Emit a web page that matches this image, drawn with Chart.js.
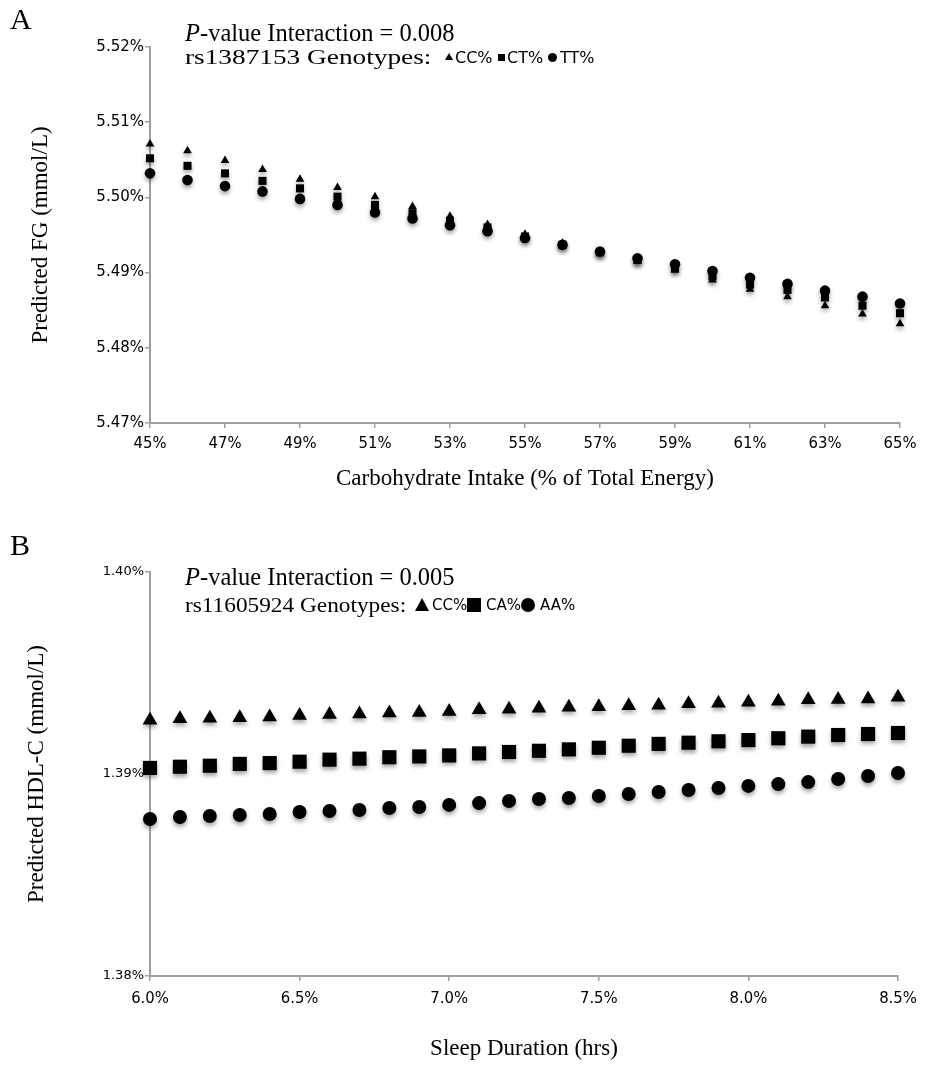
<!DOCTYPE html>
<html>
<head>
<meta charset="utf-8">
<script src="https://cdn.jsdelivr.net/npm/chart.js@4.4.0/dist/chart.umd.min.js"></script>
<style>
body { margin: 0; background: #fff; }
#wrap { position: relative; width: 927px; height: 1072px; overflow: hidden; }
canvas { position: absolute; left: 0; }
.t { position: absolute; font-family: "Liberation Serif", serif; color: #000; white-space: nowrap; line-height: 1; transform-origin: left center; }
.s { position: absolute; font-family: "DejaVu Sans", sans-serif; color: #000; white-space: nowrap; line-height: 1; }
.tri { position: absolute; width: 0; height: 0; border-style: solid; border-color: transparent transparent #000 transparent; }
.sq { position: absolute; background: #000; }
.dot { position: absolute; background: #000; border-radius: 50%; }
</style>
</head>
<body>
<div id="wrap">
  <canvas id="chartA" width="927" height="495" style="top:0"></canvas>
  <canvas id="chartB" width="927" height="577" style="top:495px"></canvas>

  <div class="t" style="left:10px;top:4px;font-size:30px">A</div>
  <div class="t" style="left:185px;top:21px;font-size:24.5px"><i>P</i>-value Interaction = 0.008</div>
  <div class="t" style="left:185px;top:47px;font-size:21px;transform:scaleX(1.3)">rs1387153 Genotypes:</div>
  <div class="tri" style="left:445px;top:53px;border-width:0 4px 7px 4px"></div>
  <div class="s" style="left:455px;top:50px;font-size:16px">CC%</div>
  <div class="sq" style="left:498px;top:54px;width:7px;height:7px"></div>
  <div class="s" style="left:507px;top:50px;font-size:16px">CT%</div>
  <div class="dot" style="left:548px;top:53px;width:9px;height:9px"></div>
  <div class="s" style="left:560px;top:50px;font-size:16px">TT%</div>

  <div class="t" style="left:10px;top:530px;font-size:30px">B</div>
  <div class="t" style="left:185px;top:565px;font-size:24.5px"><i>P</i>-value Interaction = 0.005</div>
  <div class="t" style="left:185px;top:595px;font-size:20px;transform:scaleX(1.165)">rs11605924 Genotypes:</div>
  <div class="tri" style="left:415px;top:598px;border-width:0 7.5px 13px 7.5px"></div>
  <div class="s" style="left:432px;top:598px;font-size:15px">CC%</div>
  <div class="sq" style="left:467px;top:598px;width:14px;height:14px"></div>
  <div class="s" style="left:486px;top:598px;font-size:15px">CA%</div>
  <div class="dot" style="left:521px;top:598px;width:14px;height:14px"></div>
  <div class="s" style="left:540px;top:598px;font-size:15px">AA%</div>
</div>

<script>
// panel A: fasting glucose by carbohydrate intake
var carbIntake = [45, 46, 47, 48, 49, 50, 51, 52, 53, 54, 55, 56, 57, 58, 59, 60, 61, 62, 63, 64, 65];
var fgCC = [5.5071, 5.5062, 5.5049, 5.5037, 5.5024, 5.5013, 5.5001, 5.4988, 5.4975, 5.4964, 5.4951,
            5.4939, 5.4927, 5.4915, 5.4903, 5.4890, 5.4878, 5.4868, 5.4856, 5.4845, 5.4832];
var fgCT = [5.5052, 5.5042, 5.5032, 5.5022, 5.5012, 5.5001, 5.4990, 5.4979, 5.4969, 5.4960, 5.4948,
            5.4937, 5.4927, 5.4917, 5.4906, 5.4895, 5.4884, 5.4877, 5.4867, 5.4856, 5.4846];
var fgTT = [5.5032, 5.5023, 5.5015, 5.5008, 5.4998, 5.4990, 5.4980, 5.4972, 5.4963, 5.4955, 5.4946,
            5.4937, 5.4928, 5.4919, 5.4911, 5.4902, 5.4893, 5.4885, 5.4876, 5.4868, 5.4859];
var carbTicks = [45, 47, 49, 51, 53, 55, 57, 59, 61, 63, 65];
var fgTicks = [5.47, 5.48, 5.49, 5.50, 5.51, 5.52];

// panel B: HDL-C by sleep duration
var sleepHours = [6.0, 6.1, 6.2, 6.3, 6.4, 6.5, 6.6, 6.7, 6.8, 6.9, 7.0, 7.1, 7.2,
                  7.3, 7.4, 7.5, 7.6, 7.7, 7.8, 7.9, 8.0, 8.1, 8.2, 8.3, 8.4, 8.5];
var hdlCC = [1.39266, 1.39274, 1.39276, 1.39279, 1.39282, 1.39289, 1.39294, 1.39297, 1.39302, 1.39305, 1.39310, 1.39318, 1.39320,
             1.39325, 1.39330, 1.39333, 1.39338, 1.39340, 1.39348, 1.39350, 1.39355, 1.39360, 1.39368, 1.39369, 1.39371, 1.39380];
var hdlCA = [1.39030, 1.39036, 1.39041, 1.39050, 1.39054, 1.39061, 1.39071, 1.39076, 1.39083, 1.39087, 1.39092, 1.39102, 1.39109,
             1.39115, 1.39122, 1.39130, 1.39140, 1.39149, 1.39155, 1.39162, 1.39168, 1.39177, 1.39185, 1.39193, 1.39198, 1.39203];
var hdlAA = [1.38777, 1.38787, 1.38792, 1.38797, 1.38802, 1.38812, 1.38817, 1.38822, 1.38832, 1.38837, 1.38847, 1.38856, 1.38866,
             1.38876, 1.38881, 1.38891, 1.38901, 1.38911, 1.38921, 1.38931, 1.38941, 1.38950, 1.38960, 1.38975, 1.38990, 1.39005];
var sleepTicks = [6.0, 6.5, 7.0, 7.5, 8.0, 8.5];
var hdlTicks = [1.38, 1.39, 1.40];

var serif = 'Liberation Serif';
var narrow = "'DejaVu Sans Condensed', 'Liberation Sans Narrow', 'DejaVu Sans', sans-serif";
var axisGray = '#a0a0a0';

// soft drop shadow under the markers, like the original
var shadowPlugin = {
    id: 'markerShadow',
    beforeDatasetsDraw: function(chart) {
        var ctx = chart.ctx;
        ctx.save();
        ctx.shadowColor = 'rgba(0,0,0,0.35)';
        ctx.shadowBlur = 4;
        ctx.shadowOffsetY = 3;
    },
    afterDatasetsDraw: function(chart) {
        chart.ctx.restore();
    }
};

function pairs(xs, ys)
{
    var out = [];
    for (var i = 0; i < xs.length; i++) {
        out.push({x: xs[i], y: ys[i]});
    }
    return out;
}

function series(xs, ys, style, radius, order)
{
    return {
        data: pairs(xs, ys),
        pointStyle: style,
        pointRadius: radius,
        pointHoverRadius: radius,
        pointBorderWidth: 0,
        backgroundColor: '#000',
        borderColor: '#000',
        showLine: false,
        clip: false,
        order: order
    };
}

function fixedTicks(list)
{
    return function(scale) {
        scale.ticks = list.map(function(v) { return {value: v}; });
    };
}

function renderPanel(id, opts)
{
    var ctx = document.getElementById(id).getContext('2d');
    return new Chart(ctx, {
        type: 'scatter',
        data: {datasets: opts.datasets},
        plugins: [shadowPlugin],
        options: {
            responsive: false,
            animation: false,
            events: [],
            layout: {padding: {top: opts.padTop, right: opts.padRight, left: 0, bottom: 0}},
            plugins: {legend: {display: false}, tooltip: {enabled: false}},
            scales: {
                x: {
                    type: 'linear',
                    min: opts.xMin, max: opts.xMax,
                    afterBuildTicks: fixedTicks(opts.xTicks),
                    afterFit: function(s) { s.height = opts.xHeight; },
                    ticks: {
                        callback: opts.xFormat,
                        font: {family: narrow, size: opts.xFont},
                        color: '#000',
                        padding: opts.xPad,
                        maxRotation: 0
                    },
                    grid: {drawOnChartArea: false, color: axisGray, tickLength: 5, lineWidth: 1.5},
                    border: {color: axisGray, width: 2},
                    title: {
                        display: true, text: opts.xTitle, color: '#000',
                        font: {family: serif, size: 23},
                        padding: {top: 0, bottom: opts.xTitleBottom}
                    }
                },
                y: {
                    min: opts.yMin, max: opts.yMax,
                    afterBuildTicks: fixedTicks(opts.yTicks),
                    afterFit: function(s) { s.width = 150; },
                    ticks: {
                        callback: function(v) { return v.toFixed(2) + '%'; },
                        font: {family: 'DejaVu Sans', size: opts.yFont},
                        color: '#000',
                        padding: 1
                    },
                    grid: {drawOnChartArea: false, color: axisGray, tickLength: 5, lineWidth: 1.5},
                    border: {color: axisGray, width: 2},
                    title: {
                        display: true, text: opts.yTitle, color: '#000',
                        font: {family: serif, size: 23},
                        padding: {top: opts.yTitleLeft, bottom: 0}
                    }
                }
            }
        }
    });
}

renderPanel('chartA', {
    datasets: [
        series(carbIntake, fgCC, 'triangle', 5, 3),
        series(carbIntake, fgCT, 'rect', 5.7, 2),
        series(carbIntake, fgTT, 'circle', 5.3, 1)
    ],
    padTop: 47, padRight: 27,
    xMin: 45, xMax: 65, xTicks: carbTicks,
    xFormat: function(v) { return v + '%'; },
    xFont: 16.5, xPad: 6, xHeight: 72, xTitleBottom: 2,
    xTitle: 'Carbohydrate Intake (% of Total Energy)',
    yMin: 5.47, yMax: 5.52, yTicks: fgTicks, yFont: 15,
    yTitle: 'Predicted FG (mmol/L)', yTitleLeft: 27
});

renderPanel('chartB', {
    datasets: [
        series(sleepHours, hdlCC, 'triangle', 8.5, 3),
        series(sleepHours, hdlCA, 'rect', 10, 2),
        series(sleepHours, hdlAA, 'circle', 7, 1)
    ],
    padTop: 77, padRight: 29,
    xMin: 6.0, xMax: 8.5, xTicks: sleepTicks,
    xFormat: function(v) { return v.toFixed(1) + '%'; },
    xFont: 16.5, xPad: 8, xHeight: 96, xTitleBottom: 9,
    xTitle: 'Sleep Duration (hrs)',
    yMin: 1.38, yMax: 1.40, yTicks: hdlTicks, yFont: 13,
    yTitle: 'Predicted HDL-C (mmol/L)', yTitleLeft: 23
});
</script>
</body>
</html>
